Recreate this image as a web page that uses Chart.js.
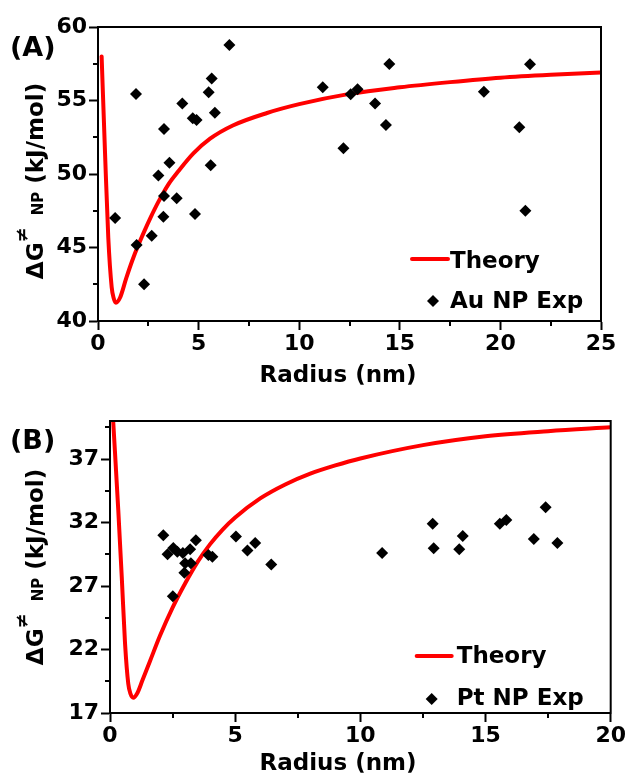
<!DOCTYPE html>
<html><head><meta charset="utf-8">
<script src="https://cdn.jsdelivr.net/npm/chart.js@4.4.1/dist/chart.umd.min.js"></script>
<style>
html,body{margin:0;padding:0;background:#fff;}
body{width:627px;height:779px;position:relative;overflow:hidden;font-family:"DejaVu Sans",sans-serif;font-weight:bold;color:#000;}
canvas{position:absolute;left:0;}
#cA{top:0;width:627px;height:390px;}
#cB{top:390px;width:627px;height:389px;}
.lbl{position:absolute;white-space:nowrap;line-height:1;}
.panel{font-size:27px;}
.xt{font-size:23px;transform:translateX(-50%);}
.yt{font-size:23px;line-height:27px;transform:translate(-50%,-50%) rotate(-90deg);}
.sup{font-size:18px;position:relative;top:-15px;}
.sub{font-size:15px;position:relative;top:0px;margin-left:12px;}
</style></head><body>
<canvas id="cA" width="627" height="390"></canvas>
<canvas id="cB" width="627" height="389"></canvas>
<div class="lbl panel" style="left:10px;top:33px">(A)</div>
<div class="lbl panel" style="left:10px;top:426px">(B)</div>
<div class="lbl yt" style="left:37px;top:181px">ΔG<span class="sup">≠</span><span class="sub">NP</span> (kJ/mol)</div>
<div class="lbl yt" style="left:37px;top:567px">ΔG<span class="sup">≠</span><span class="sub">NP</span> (kJ/mol)</div>
<div class="lbl xt" style="left:338px;top:363px">Radius (nm)</div>
<div class="lbl xt" style="left:338px;top:751px">Radius (nm)</div>
<script>
// ---------- Panel A: Au nanoparticles ----------
const theoryRadiusA = [0.18,0.35,0.51,0.68,0.78,0.89,1.1,1.4,1.7,2.0,2.3,2.6,3.0,3.5,4.0,4.74,5.57,6.7,8.4,10.0,12.5,15.0,17.5,20.0,22.5,25.0];
const theoryEnergyA = [58.0,51.4,45.7,42.3,41.55,41.25,41.6,42.9,44.1,45.15,46.1,47.0,48.1,49.3,50.2,51.4,52.4,53.3,54.15,54.75,55.45,55.9,56.25,56.55,56.75,56.9];
const expRadiusA = [0.85,1.89,1.92,2.29,2.67,3.0,3.28,3.28,3.25,3.55,3.91,4.19,4.71,4.9,4.82,5.5,5.65,5.81,5.6,6.53,11.17,12.2,12.56,12.9,13.77,14.31,14.48,19.18,20.94,21.24,21.47];
const expEnergyA = [47.0,55.44,45.17,42.5,45.8,49.9,53.06,48.5,47.1,50.77,48.35,54.8,53.8,53.67,47.28,55.56,56.5,54.17,50.6,58.78,55.9,51.75,55.42,55.76,54.8,53.33,57.48,55.6,53.18,47.5,57.46];
const radiusTicksA = [0,5,10,15,20,25];
const radiusMinorA = [2.5,7.5,12.5,17.5,22.5];
const energyTicksA = [40,45,50,55,60];
const energyMinorA = [42.5,47.5,52.5,57.5];
const labelsA = ['Theory','Au NP Exp'];

// ---------- Panel B: Pt nanoparticles ----------
const theoryRadiusB = [0.13,0.33,0.47,0.6,0.73,0.82,0.93,1.1,1.3,1.6,2.0,2.5,3.0,3.5,4.0,4.5,5.0,6.0,7.0,8.0,9.0,10.0,12.5,15.0,17.5,20.0];
const theoryEnergyB = [39.9,33.0,27.7,22.5,19.3,18.5,18.2,18.6,19.6,21.1,23.1,25.3,27.2,28.9,30.3,31.45,32.4,33.9,35.0,35.85,36.5,37.05,38.1,38.8,39.2,39.5];
const expRadiusB = [2.13,2.3,2.53,2.69,2.91,3.2,3.43,3.0,3.23,2.97,2.51,3.93,4.09,5.03,5.49,5.8,6.44,10.87,12.89,12.93,13.95,14.09,15.57,15.83,16.93,17.4,17.87];
const expEnergyB = [31.0,29.5,30.0,29.7,29.6,29.9,30.6,28.8,28.8,28.05,26.2,29.45,29.3,30.9,29.8,30.4,28.7,29.6,31.9,29.97,29.9,30.95,31.9,32.2,30.7,33.2,30.4];
const radiusTicksB = [0,5,10,15,20];
const radiusMinorB = [2.5,7.5,12.5,17.5];
const energyTicksB = [17,22,27,32,37];
const energyMinorB = [19.5,24.5,29.5,34.5,39.5];
const labelsB = ['Theory','Pt NP Exp'];

const FONT = 'DejaVu Sans';

const decorPlugin = {
  id: 'decor',
  afterDraw(chart, args, opts) {
    const {ctx, chartArea: a, scales} = chart;
    ctx.save();
    ctx.strokeStyle = '#000';
    ctx.lineWidth = 2;
    // top and right frame
    ctx.beginPath();
    ctx.moveTo(a.left - 1, a.top);
    ctx.lineTo(a.right, a.top);
    ctx.lineTo(a.right, a.bottom + 1);
    ctx.stroke();
    // minor ticks
    ctx.beginPath();
    (opts.xMinor || []).forEach(v => {
      const px = Math.round(scales.x.getPixelForValue(v));
      ctx.moveTo(px, a.bottom); ctx.lineTo(px, a.bottom + 5);
    });
    (opts.yMinor || []).forEach(v => {
      const py = Math.round(scales.y.getPixelForValue(v));
      ctx.moveTo(a.left, py); ctx.lineTo(a.left - 5, py);
    });
    ctx.stroke();
    // legend inside the plot
    const L = opts.legend;
    const ds = chart.data.datasets;
    ctx.font = 'bold 23px "' + FONT + '"';
    ctx.textBaseline = 'alphabetic';
    ctx.textAlign = 'left';
    ctx.fillStyle = '#000';
    ctx.strokeStyle = ds[0].borderColor;
    ctx.lineWidth = ds[0].borderWidth;
    ctx.lineCap = 'round';
    ctx.beginPath();
    ctx.moveTo(a.right - L.lineX0, a.bottom - L.lineY);
    ctx.lineTo(a.right - L.lineX1, a.bottom - L.lineY);
    ctx.stroke();
    ctx.fillText(ds[0].label, a.right - L.textX, a.bottom - L.base0);
    const cx = a.right - L.markX, cy = a.bottom - L.markY, r = 6;
    ctx.beginPath();
    ctx.moveTo(cx - r, cy); ctx.lineTo(cx, cy - r); ctx.lineTo(cx + r, cy); ctx.lineTo(cx, cy + r);
    ctx.closePath();
    ctx.fillStyle = ds[1].backgroundColor;
    ctx.fill();
    ctx.fillStyle = '#000';
    ctx.fillText(ds[1].label, a.right - L.textX, a.bottom - L.base1);
    ctx.restore();
  }
};

function axis(min, max, ticks, size, isX) {
  return {
    type: 'linear', min: min, max: max,
    afterBuildTicks: s => { s.ticks = ticks.map(v => ({value: v})); },
    afterFit: s => { if (isX) s.height = size; else s.width = size; },
    border: {display: true, color: '#000', width: 2},
    grid: {drawOnChartArea: false, drawTicks: true, tickLength: 9, tickWidth: 2, tickColor: '#000', color: '#000'},
    ticks: {font: {family: FONT, size: 22, weight: 'bold'}, color: '#000', padding: isX ? 1 : 2, maxRotation: 0, autoSkip: false}
  };
}

function makeChart(id, p) {
  new Chart(document.getElementById(id), {
    type: 'scatter',
    data: {
      datasets: [
        {
          label: p.labels[0], order: 1, showLine: true,
          data: p.tx.map((x, i) => ({x: x, y: p.ty[i]})),
          borderColor: '#ff0000', backgroundColor: '#ff0000', borderWidth: 4,
          borderCapStyle: 'round', borderJoinStyle: 'round',
          pointRadius: 0, cubicInterpolationMode: 'monotone', fill: false
        },
        {
          label: p.labels[1], order: 0, showLine: false,
          data: p.ex.map((x, i) => ({x: x, y: p.ey[i]})),
          pointStyle: 'rectRot', pointRadius: 6, borderWidth: 0,
          backgroundColor: '#000', borderColor: '#000'
        }
      ]
    },
    options: {
      responsive: false, animation: false, devicePixelRatio: 1,
      layout: {padding: p.pad},
      plugins: {legend: {display: false}, tooltip: {enabled: false}, decor: {xMinor: p.xMinor, yMinor: p.yMinor, legend: p.legend}},
      scales: {
        x: axis(p.xMin, p.xMax, p.xTicks, p.xH, true),
        y: axis(p.yMin, p.yMax, p.yTicks, p.yW, false)
      }
    },
    plugins: [decorPlugin]
  });
}

makeChart('cA', {
  tx: theoryRadiusA, ty: theoryEnergyA, ex: expRadiusA, ey: expEnergyA, labels: labelsA,
  xMin: 0, xMax: 25, yMin: 40, yMax: 60,
  xTicks: radiusTicksA, yTicks: energyTicksA, xMinor: radiusMinorA, yMinor: energyMinorA,
  pad: {top: 27, right: 26, left: 0, bottom: 0}, xH: 69, yW: 98,
  legend: {lineX0: 189, lineX1: 153, lineY: 62, textX: 151, base0: 53, markX: 168, markY: 20, base1: 13}
});
makeChart('cB', {
  tx: theoryRadiusB, ty: theoryEnergyB, ex: expRadiusB, ey: expEnergyB, labels: labelsB,
  xMin: 0, xMax: 20, yMin: 17, yMax: 40,
  xTicks: radiusTicksB, yTicks: energyTicksB, xMinor: radiusMinorB, yMinor: energyMinorB,
  pad: {top: 31, right: 16, left: 0, bottom: 0}, xH: 66, yW: 110,
  legend: {lineX0: 194, lineX1: 159, lineY: 57, textX: 154, base0: 50, markX: 179, markY: 14, base1: 8}
});
</script>
</body></html>
